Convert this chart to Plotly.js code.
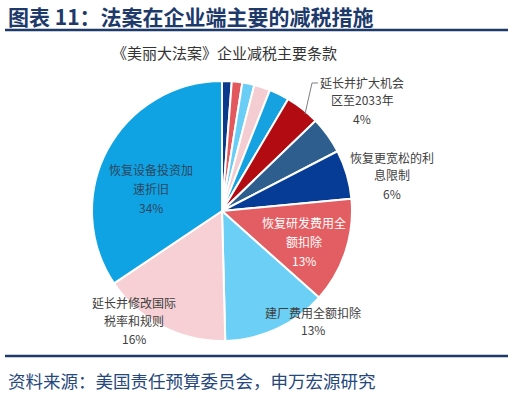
<!DOCTYPE html>
<html>
<head>
<meta charset="utf-8">
<script src="https://cdn.plot.ly/plotly-3.0.1.min.js"></script>
<style>
html,body{margin:0;padding:0;background:#fff;}
#chart{width:515px;height:398px;}
</style>
</head>
<body>
<div id="chart"></div>
<script>
// ---- data ----
const chartTitle = '图表 11：法案在企业端主要的减税措施';
const chartSubtitle = '《美丽大法案》企业减税主要条款';
const sourceNote = '资料来源：美国责任预算委员会，申万宏源研究';

const sliceNames = ['其他条款A','其他条款B','其他条款C','其他条款D','其他条款E',
  '延长并扩大机会区至2033年','其他条款F','恢复更宽松的利息限制','恢复研发费用全额扣除',
  '建厂费用全额扣除','延长并修改国际税率和规则','恢复设备投资加速折旧'];
const shares = [1.2, 1.3, 1.5, 2.0, 2.5, 4.3, 4.6, 6.1, 13.1, 13.0, 16.0, 34.4];
const labelLines = [null, null, null, null, null,
  ['延长并扩大机会','区至2033年'], null,
  ['恢复更宽松的利','息限制'],
  ['恢复研发费用全','额扣除'],
  ['建厂费用全额扣除'],
  ['延长并修改国际','税率和规则'],
  ['恢复设备投资加','速折旧']];

// ---- styles / layout ----
const W = 515, H = 398;
const px = x => x / W;
const py = y => 1 - y / H;
const sliceColors = ['#0B3A8C','#E2585D','#6ACDF5','#F4CDD2','#16A2E0',
  '#B30B12','#2E5E8E','#063C96','#E35E62','#6CCFF6','#F6D0D4','#0FA3E3'];
const navy = '#1D3A6B';
const cjk = '"Noto Sans CJK SC", "Noto Sans", sans-serif';

// label placement (pixel anchor of first line centre, text colour, line gap)
const labelPlace = {
  5:  {x: 362, y: 82,  c: '#404040', g: 18},
  7:  {x: 392, y: 157, c: '#404040', g: 18},
  8:  {x: 304, y: 222, c: '#ffffff', g: 19},
  9:  {x: 313, y: 312, c: '#404040', g: 17},
  10: {x: 134, y: 302, c: '#404040', g: 18},
  11: {x: 151, y: 169, c: '#2F4660', g: 19}
};

const annotations = [];
annotations.push({xref:'paper', yref:'paper', x: px(6), y: py(16), xanchor:'left', yanchor:'middle',
  text: '<b>' + chartTitle + '</b>', showarrow:false,
  font:{family: cjk, size: 21, color: navy}});
annotations.push({xref:'paper', yref:'paper', x: px(224), y: py(52), xanchor:'center', yanchor:'middle',
  text: chartSubtitle, showarrow:false, font:{family: cjk, size: 15, color: '#333333'}});
annotations.push({xref:'paper', yref:'paper', x: px(6), y: py(380), xanchor:'left', yanchor:'middle',
  text: sourceNote, showarrow:false, font:{family: cjk, size: 17.5, color: '#26487C'}});

Object.keys(labelPlace).forEach(k => {
  const i = +k, p = labelPlace[k];
  const lines = labelLines[i].concat([Math.round(shares[i]) + '%']);
  lines.forEach((t, j) => {
    annotations.push({xref:'paper', yref:'paper', x: px(p.x), y: py(p.y + j * p.g),
      xanchor:'center', yanchor:'middle', text: t, showarrow:false, borderpad: 0,
      font:{family: cjk, size: 12, color: p.c}});
  });
});

const shapes = [
  {type:'line', xref:'paper', yref:'paper', x0: px(5), x1: px(508), y0: py(30), y1: py(30),
   line:{color: navy, width: 2.5}},
  {type:'line', xref:'paper', yref:'paper', x0: px(5), x1: px(508), y0: py(356), y1: py(356),
   line:{color: navy, width: 2.5}},
  {type:'path', xref:'paper', yref:'paper',
   path: `M ${px(305)} ${py(114)} L ${px(312)} ${py(83)} L ${px(318)} ${py(83)}`,
   line:{color:'#808080', width: 1}}
];

const trace = {
  type: 'pie',
  labels: sliceNames,
  values: shares,
  sort: false,
  direction: 'clockwise',
  rotation: 0,
  textinfo: 'none',
  hoverinfo: 'label+percent',
  marker: {colors: sliceColors, line: {color: '#ffffff', width: 2}},
  domain: {x: [px(92), px(352)], y: [py(341), py(81)]}
};

const layout = {
  width: W, height: H,
  margin: {l:0, r:0, t:0, b:0},
  paper_bgcolor: '#ffffff',
  showlegend: false,
  annotations: annotations,
  shapes: shapes
};

Plotly.newPlot('chart', [trace], layout, {displayModeBar: false, staticPlot: true});
</script>
</body>
</html>
